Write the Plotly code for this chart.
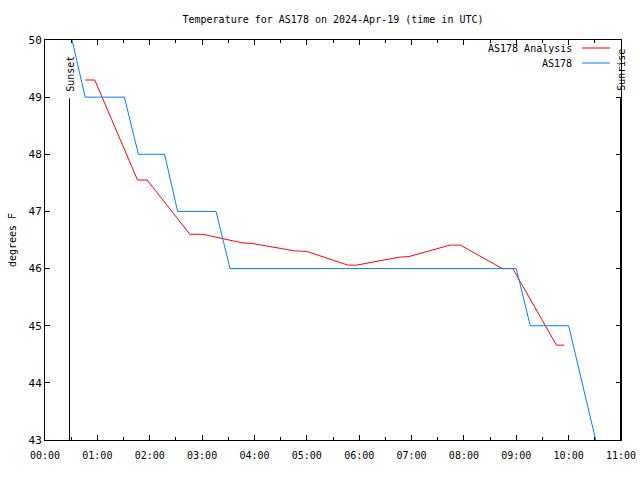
import plotly.graph_objects as go

DAY = "2024-04-19 "

# AS178 observations (blue)
obs_times = ["00:31", "00:46", "01:31", "01:47", "02:17", "02:32", "03:16", "03:32",
             "09:00", "09:16", "10:00", "10:31"]
obs_temps = [50.0, 49.0, 49.0, 48.0, 48.0, 47.0, 47.0, 46.0,
             46.0, 45.0, 45.0, 43.0]

# AS178 Analysis (red)
ana_times = ["00:46", "00:57", "01:46", "01:57", "02:46", "03:01", "03:46", "03:57",
             "04:46", "05:00", "05:47", "05:57", "06:46", "06:57", "07:44", "07:56",
             "08:44", "08:56", "09:46", "09:55"]
ana_temps = [49.3, 49.3, 47.55, 47.55, 46.6, 46.6, 46.45, 46.44,
             46.31, 46.3, 46.06, 46.06, 46.2, 46.21, 46.41, 46.41,
             46.0, 46.0, 44.66, 44.66]

sunset_time = "00:28:04"
sunrise_time = "10:59:26"
sun_line_temps = [48.98, 43.0]

x_ticks = ["00:00", "01:00", "02:00", "03:00", "04:00", "05:00", "06:00",
           "07:00", "08:00", "09:00", "10:00", "11:00"]
y_ticks = [43, 44, 45, 46, 47, 48, 49, 50]

FONT = "DejaVu Sans Mono"

fig = go.Figure()
fig.add_trace(go.Scatter(x=[DAY + sunset_time] * 2, y=sun_line_temps, mode="lines",
                         line=dict(color="black", width=1), showlegend=False, hoverinfo="skip"))
fig.add_trace(go.Scatter(x=[DAY + sunrise_time] * 2, y=sun_line_temps, mode="lines",
                         line=dict(color="black", width=1), showlegend=False, hoverinfo="skip"))
fig.add_trace(go.Scatter(x=[DAY + t for t in ana_times], y=ana_temps, mode="lines",
                         name="AS178 Analysis", line=dict(color="#ff0000", width=1),
                         showlegend=False))
fig.add_trace(go.Scatter(x=[DAY + t for t in obs_times], y=obs_temps, mode="lines",
                         name="AS178", line=dict(color="#0080ff", width=1),
                         showlegend=False))

# Sunset / Sunrise labels
for t, label in [(sunset_time, "Sunset"), (sunrise_time, "Sunrise")]:
    fig.add_annotation(x=DAY + t, y=sun_line_temps[0], xref="x", yref="y", text=label,
                       textangle=-90, showarrow=False, xanchor="center", yanchor="bottom",
                       yshift=5, xshift=1, font=dict(family=FONT, size=10, color="black"))

# Manual legend (text right-aligned, sample line to the right)
legend_items = [("AS178 Analysis", "#ff0000", 0.980), ("AS178", "#0080ff", 0.9425)]
for label, color, yp in legend_items:
    fig.add_annotation(x=0.9184, y=yp, xref="paper", yref="paper", text=label,
                       showarrow=False, xanchor="right", yanchor="middle",
                       font=dict(family=FONT, size=10, color="black"))
    fig.add_shape(type="line", xref="paper", yref="paper", x0=0.9323, x1=0.9809,
                  y0=yp, y1=yp, line=dict(color=color, width=1))

fig.update_layout(
    width=640, height=480,
    margin=dict(l=45, r=19, t=40, b=40, autoexpand=False),
    paper_bgcolor="white", plot_bgcolor="white",
    showlegend=False,
    font=dict(family=FONT, size=10, color="black"),
    title=dict(text="Temperature for AS178 on 2024-Apr-19 (time in UTC)",
               x=0.5, xref="paper", xanchor="center", y=1 - 19 / 480, yanchor="middle",
               font=dict(family=FONT, size=10, color="black")),
)
fig.update_xaxes(
    range=[DAY + "00:00", DAY + "11:00"], automargin=False,
    tickmode="array", tickvals=[DAY + t for t in x_ticks], ticktext=x_ticks,
    ticks="inside", ticklen=5, tickcolor="black", tickwidth=1, ticklabelstandoff=6,
    minor=dict(dtick=1800000, ticks="inside", ticklen=3, tickcolor="black", showgrid=False),
    showline=True, linecolor="black", linewidth=1, mirror="allticks",
    showgrid=False, zeroline=False, tickfont=dict(family=FONT, size=10),
)
fig.update_yaxes(
    range=[43, 50], tickmode="array", tickvals=y_ticks, automargin=False,
    ticks="inside", ticklen=5, tickcolor="black", tickwidth=1,
    showline=True, linecolor="black", linewidth=1, mirror="allticks",
    showgrid=False, zeroline=False, tickfont=dict(family=FONT, size=11),
    title=dict(text="degrees F", font=dict(family=FONT, size=10), standoff=10),
)

fig.write_html("out.html")
